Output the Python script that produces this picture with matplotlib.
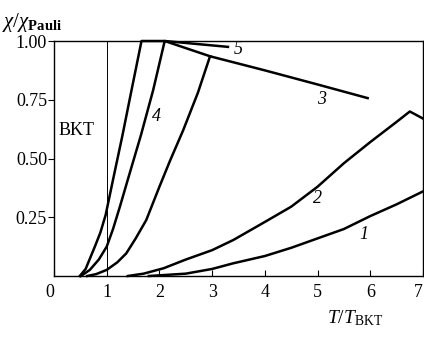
import matplotlib
matplotlib.use("Agg")
import matplotlib.pyplot as plt

# Data
c1_x = [1.8, 2.5, 3.0, 3.4, 4.0, 4.5, 5.0, 5.5, 6.0, 6.5, 7.0]
c1_y = [0.0, 0.01, 0.03, 0.054, 0.085, 0.12, 0.16, 0.20, 0.255, 0.305, 0.36]

c2_x = [1.4, 1.7, 2.08, 2.5, 3.0, 3.4, 4.0, 4.5, 5.0, 5.5, 6.0, 6.5, 6.75, 7.0]
c2_y = [0.0, 0.01, 0.033, 0.07, 0.11, 0.153, 0.23, 0.295, 0.38, 0.48, 0.57, 0.656, 0.70, 0.67]

c3_x = [0.63, 0.8, 1.0, 1.2, 1.37, 1.55, 1.75, 2.0, 2.2, 2.45, 2.73, 2.96, 4.0, 5.0, 5.95]
c3_y = [0.0, 0.008, 0.026, 0.058, 0.096, 0.16, 0.238, 0.38, 0.49, 0.62, 0.78, 0.935, 0.875, 0.815, 0.757]

c4_x = [0.51, 0.68, 0.85, 1.0, 1.12, 1.25, 1.4, 1.65, 1.88, 2.1, 2.96]
c4_y = [0.0, 0.026, 0.07, 0.125, 0.2, 0.295, 0.41, 0.6, 0.79, 1.0, 0.935]

c5_x = [0.49, 0.6, 0.775, 0.88, 0.98, 1.12, 1.3, 1.47, 1.66, 2.1, 3.3]
c5_y = [0.0, 0.03, 0.125, 0.185, 0.26, 0.41, 0.6, 0.79, 1.0, 1.0, 0.975]

curve_labels = ["1", "2", "3", "4", "5"]
label_pos = [(5.88, 0.175), (5.0, 0.33), (5.07, 0.75), (1.95, 0.68), (3.5, 0.965)]

x_ticks = [0, 1, 2, 3, 4, 5, 6, 7]
y_ticks = [0.25, 0.50, 0.75, 1.00]
y_ticklabels = ["0.25", "0.50", "0.75", "1.00"]

serif = ["Liberation Serif", "DejaVu Serif"]
plt.rcParams["font.family"] = serif
plt.rcParams["mathtext.fontset"] = "custom"
plt.rcParams["mathtext.rm"] = "Liberation Serif"
plt.rcParams["mathtext.it"] = "Liberation Serif:italic"
plt.rcParams["mathtext.bf"] = "Liberation Serif:bold"

fig = plt.figure(figsize=(4.24, 3.37), dpi=100)
ax = fig.add_axes([54 / 424, (337 - 276) / 337, (423 - 54) / 424, (276 - 41) / 337])

lw = 1.8
for xs, ys in [(c1_x, c1_y), (c2_x, c2_y), (c3_x, c3_y), (c4_x, c4_y), (c5_x, c5_y)]:
    ax.plot(xs, ys, color="black", lw=lw, solid_joinstyle="round", clip_on=False)

ax.plot([1, 1], [0, 1], color="black", lw=0.7)
ax.text(0.08, 0.62, "BKT", fontsize=13, va="center", ha="left")

for lab, (lx, ly) in zip(curve_labels, label_pos):
    ax.text(lx, ly, lab, fontsize=13, style="italic", ha="center", va="center")

ax.set_xlim(0, 7)
ax.set_ylim(0, 1.0)
ax.set_xticks(x_ticks)
ax.set_xticklabels([str(t) for t in x_ticks], fontsize=13)
ax.set_yticks(y_ticks)
ax.set_yticklabels(y_ticklabels, fontsize=13)
ax.tick_params(axis="x", direction="in", length=4, width=0.8, pad=6)
ax.tick_params(axis="y", direction="out", length=4, width=0.8, pad=1)
xl = ax.get_xticklabels()
xl[-1].set_ha("right")
xl[0].set_ha("right")
for s in ax.spines.values():
    s.set_linewidth(1.0)

fig.text(2 / 424, 1 - 22 / 337, r"$\chi/\chi_{\mathbf{Pauli}}$", fontsize=15, ha="left", va="center")
fig.text(327 / 424, 1 - 318 / 337, r"$T/T_{\mathrm{BKT}}$", fontsize=14, ha="left", va="center")

fig.savefig("out.png", dpi=100)
